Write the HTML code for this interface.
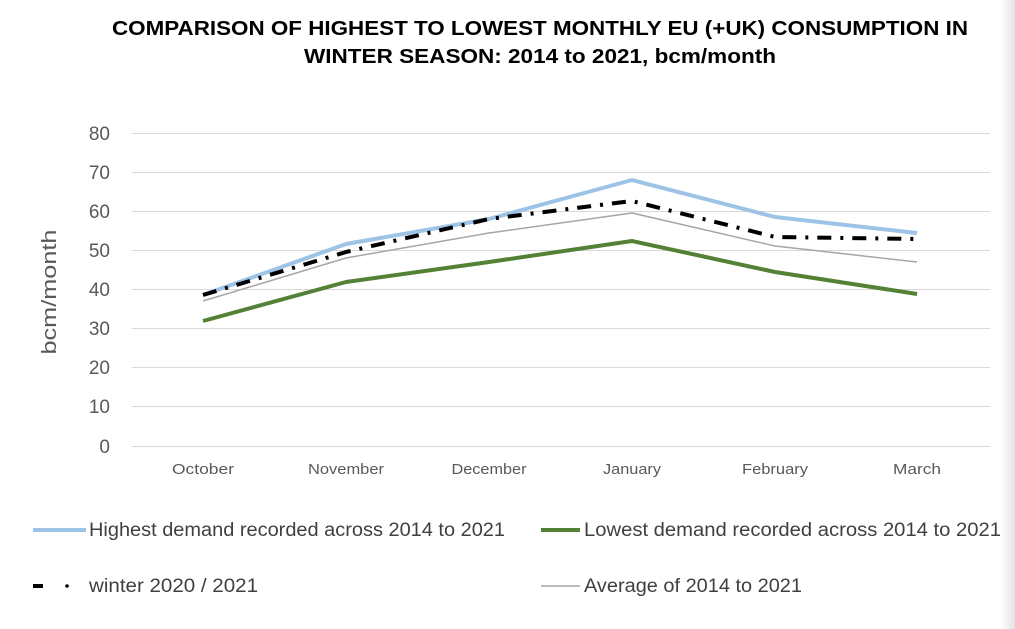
<!DOCTYPE html>
<html><head><meta charset="utf-8"><style>
body{margin:0;width:1015px;height:629px;background:#fff;overflow:hidden;position:relative}
svg{position:absolute;left:0;top:0}
</style></head><body>
<svg width="1015" height="629" viewBox="0 0 1015 629" xmlns="http://www.w3.org/2000/svg">
<defs><linearGradient id="g" x1="0" x2="1"><stop offset="0" stop-color="#fff"/><stop offset="1" stop-color="#e4e4e4"/></linearGradient></defs>
<rect x="1000" y="0" width="15" height="629" fill="url(#g)"/>
<g font-family="Liberation Sans, Arial, sans-serif" font-weight="bold" font-size="20" fill="#000">
<text x="112" y="35" textLength="856" lengthAdjust="spacingAndGlyphs">COMPARISON OF HIGHEST TO LOWEST MONTHLY EU (+UK) CONSUMPTION IN</text>
<text x="304" y="63" textLength="472" lengthAdjust="spacingAndGlyphs">WINTER SEASON: 2014 to 2021, bcm/month</text>
</g>
<g stroke="#d9d9d9" stroke-width="1">
<line x1="132" x2="990" y1="133.5" y2="133.5"/><line x1="132" x2="990" y1="172.5" y2="172.5"/>
<line x1="132" x2="990" y1="211.5" y2="211.5"/><line x1="132" x2="990" y1="250.5" y2="250.5"/>
<line x1="132" x2="990" y1="289.5" y2="289.5"/><line x1="132" x2="990" y1="328.5" y2="328.5"/>
<line x1="132" x2="990" y1="367.5" y2="367.5"/><line x1="132" x2="990" y1="406.5" y2="406.5"/>
<line x1="132" x2="990" y1="446.5" y2="446.5"/>
</g>
<g font-family="Liberation Sans, Arial, sans-serif" font-size="19" fill="#595959" text-anchor="end">
<text x="110" y="140">80</text><text x="110" y="179">70</text><text x="110" y="218">60</text>
<text x="110" y="257">50</text><text x="110" y="296">40</text><text x="110" y="335">30</text>
<text x="110" y="374">20</text><text x="110" y="413">10</text><text x="110" y="453">0</text>
</g>
<text transform="translate(56,292) rotate(-90)" font-family="Liberation Sans, Arial, sans-serif" font-size="20" fill="#595959" text-anchor="middle" textLength="125" lengthAdjust="spacingAndGlyphs">bcm/month</text>
<g font-family="Liberation Sans, Arial, sans-serif" font-size="15" fill="#595959" text-anchor="middle">
<text x="203" y="474" textLength="62" lengthAdjust="spacingAndGlyphs">October</text>
<text x="346" y="474" textLength="76" lengthAdjust="spacingAndGlyphs">November</text>
<text x="489" y="474" textLength="75" lengthAdjust="spacingAndGlyphs">December</text>
<text x="632" y="474" textLength="58" lengthAdjust="spacingAndGlyphs">January</text>
<text x="775" y="474" textLength="66" lengthAdjust="spacingAndGlyphs">February</text>
<text x="917" y="474" textLength="48" lengthAdjust="spacingAndGlyphs">March</text>
</g>
<g fill="none" stroke-linejoin="round">
<polyline stroke="#9dc3e6" stroke-width="4" points="203,295 346,244 489,219 632,180 775,217 917,233"/>
<polyline stroke="#a6a6a6" stroke-width="1.5" points="203,301 346,258 489,233 632,213 775,246 917,262"/>
<polyline stroke="#538135" stroke-width="4" points="203,321 346,282 489,262 632,241 775,272 917,294"/>
<polyline stroke="#000" stroke-width="4" stroke-dasharray="14,9,3,9" points="203,295 346,252 489,219 632,201 775,237 917,239"/>
</g>
<g font-family="Liberation Sans, Arial, sans-serif" font-size="19" fill="#404040">
<line x1="33" x2="86" y1="530" y2="530" stroke="#9dc3e6" stroke-width="4"/>
<text x="89" y="536" textLength="416" lengthAdjust="spacingAndGlyphs">Highest demand recorded across 2014 to 2021</text>
<line x1="541" x2="580" y1="530" y2="530" stroke="#538135" stroke-width="4"/>
<text x="584" y="536" textLength="417" lengthAdjust="spacingAndGlyphs">Lowest demand recorded across  2014 to 2021</text>
<line x1="33" x2="43" y1="586" y2="586" stroke="#000" stroke-width="4"/>
<circle cx="67" cy="586" r="1.8" fill="#000"/>
<text x="89" y="592" textLength="169" lengthAdjust="spacingAndGlyphs">winter 2020 / 2021</text>
<line x1="541" x2="580" y1="586" y2="586" stroke="#a6a6a6" stroke-width="1.5"/>
<text x="584" y="592" textLength="218" lengthAdjust="spacingAndGlyphs">Average of 2014 to 2021</text>
</g>
</svg>
</body></html>
